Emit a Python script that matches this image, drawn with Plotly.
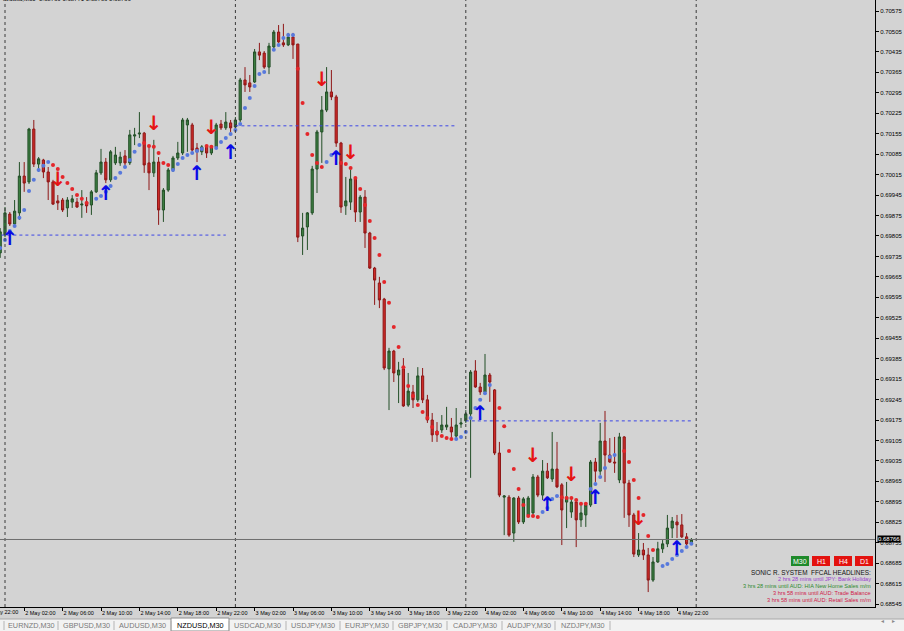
import pandas as pd
import plotly.graph_objects as go

# NZDUSD M30, first visible bar opens 1 May 23:30
first_bar = pd.Timestamp("2016-05-01 23:30")

opens = [0.69747, 0.69808, 0.69880, 0.69846, 0.69884, 0.70010, 0.69990, 0.70171, 0.70051, 0.70065,
         0.70024, 0.69990, 0.69925, 0.69928, 0.69901, 0.69921, 0.69921, 0.69911, 0.69921, 0.69911,
         0.69956, 0.70021, 0.70058, 0.69997, 0.70055, 0.70055, 0.70079, 0.70055, 0.70147, 0.70154,
         0.70157, 0.70055, 0.70021, 0.70058, 0.69894, 0.69962, 0.70031, 0.70072, 0.70089, 0.70185,
         0.70185, 0.70106, 0.70093, 0.70110, 0.70089, 0.70110, 0.70188, 0.70175, 0.70192, 0.70178,
         0.70202, 0.70339, 0.70329, 0.70332, 0.70435, 0.70431, 0.70383, 0.70452, 0.70503, 0.70466,
         0.70459, 0.70486, 0.70462, 0.69805, 0.69836, 0.69884, 0.70034, 0.70161, 0.70236, 0.70298,
         0.70281, 0.70123, 0.69908, 0.69921, 0.70000, 0.69887, 0.69938, 0.69815, 0.69695, 0.69644,
         0.69589, 0.69350, 0.69411, 0.69329, 0.69350, 0.69226, 0.69271, 0.69244, 0.69326, 0.69244,
         0.69175, 0.69137, 0.69141, 0.69151, 0.69151, 0.69120, 0.69161, 0.69172, 0.69196, 0.69343,
         0.69288, 0.69271, 0.69329, 0.69278, 0.69062, 0.68911, 0.68911, 0.68788, 0.68908, 0.68826,
         0.68850, 0.68857, 0.68980, 0.68918, 0.69000, 0.68973, 0.69007, 0.68953, 0.68894, 0.68860,
         0.68894, 0.68833, 0.68850, 0.68884, 0.69031, 0.69000, 0.69103, 0.69055, 0.69031, 0.68970,
         0.69117, 0.68959, 0.68850, 0.68713, 0.68730, 0.68713, 0.68627, 0.68689, 0.68734, 0.68751,
         0.68805, 0.68826, 0.68816, 0.68775, 0.68751]
highs = [0.69832, 0.69904, 0.69887, 0.69928, 0.70058, 0.70058, 0.70175, 0.70202, 0.70075, 0.70069,
         0.70041, 0.69997, 0.69945, 0.69935, 0.69938, 0.69945, 0.69935, 0.69962, 0.69938, 0.69962,
         0.70031, 0.70103, 0.70072, 0.70099, 0.70110, 0.70093, 0.70099, 0.70168, 0.70175, 0.70229,
         0.70161, 0.70116, 0.70134, 0.70075, 0.69969, 0.70038, 0.70079, 0.70127, 0.70209, 0.70209,
         0.70192, 0.70123, 0.70116, 0.70116, 0.70116, 0.70192, 0.70202, 0.70229, 0.70202, 0.70212,
         0.70346, 0.70383, 0.70356, 0.70445, 0.70466, 0.70438, 0.70466, 0.70510, 0.70527, 0.70531,
         0.70500, 0.70500, 0.70462, 0.69884, 0.69887, 0.70045, 0.70168, 0.70284, 0.70383, 0.70373,
         0.70288, 0.70127, 0.70007, 0.70031, 0.70003, 0.69945, 0.69962, 0.69819, 0.69699, 0.69665,
         0.69593, 0.69422, 0.69415, 0.69374, 0.69387, 0.69336, 0.69295, 0.69356, 0.69353, 0.69261,
         0.69199, 0.69168, 0.69192, 0.69220, 0.69182, 0.69216, 0.69182, 0.69209, 0.69346, 0.69380,
         0.69302, 0.69401, 0.69336, 0.69281, 0.69100, 0.68918, 0.68918, 0.68911, 0.68915, 0.68911,
         0.68915, 0.68990, 0.68987, 0.69038, 0.69028, 0.69134, 0.69100, 0.68959, 0.68963, 0.68911,
         0.68901, 0.68884, 0.68891, 0.69038, 0.69045, 0.69165, 0.69206, 0.69113, 0.69117, 0.69131,
         0.69120, 0.68970, 0.68857, 0.68788, 0.68754, 0.68737, 0.68706, 0.68758, 0.68764, 0.68850,
         0.68843, 0.68850, 0.68853, 0.68788, 0.68771]
lows = [0.69730, 0.69801, 0.69839, 0.69839, 0.69860, 0.69956, 0.69983, 0.70041, 0.70024, 0.70003,
        0.69928, 0.69911, 0.69894, 0.69887, 0.69870, 0.69901, 0.69901, 0.69867, 0.69884, 0.69877,
        0.69952, 0.70014, 0.69986, 0.69990, 0.70048, 0.70045, 0.70038, 0.70048, 0.70116, 0.70140,
        0.70021, 0.69962, 0.70007, 0.69843, 0.69853, 0.69956, 0.70024, 0.70065, 0.70082, 0.70093,
        0.70093, 0.70058, 0.70082, 0.70072, 0.70082, 0.70103, 0.70168, 0.70168, 0.70161, 0.70168,
        0.70195, 0.70298, 0.70298, 0.70329, 0.70407, 0.70377, 0.70359, 0.70448, 0.70466, 0.70452,
        0.70455, 0.70411, 0.69784, 0.69740, 0.69757, 0.69877, 0.69952, 0.70055, 0.70229, 0.70270,
        0.70110, 0.69884, 0.69877, 0.69894, 0.69853, 0.69853, 0.69764, 0.69692, 0.69569, 0.69558,
        0.69346, 0.69209, 0.69305, 0.69233, 0.69220, 0.69220, 0.69216, 0.69237, 0.69233, 0.69165,
        0.69100, 0.69100, 0.69131, 0.69141, 0.69107, 0.69113, 0.69148, 0.69165, 0.68977, 0.69285,
        0.69261, 0.69267, 0.69237, 0.69055, 0.68911, 0.68781, 0.68775, 0.68758, 0.68819, 0.68819,
        0.68843, 0.68850, 0.68911, 0.68901, 0.68973, 0.68963, 0.68942, 0.68747, 0.68805, 0.68840,
        0.68740, 0.68809, 0.68809, 0.68877, 0.68963, 0.68987, 0.68963, 0.69028, 0.68994, 0.68959,
        0.68840, 0.68809, 0.68706, 0.68706, 0.68696, 0.68586, 0.68621, 0.68686, 0.68720, 0.68740,
        0.68771, 0.68771, 0.68771, 0.68740, 0.68747]
closes = [0.69819, 0.69884, 0.69846, 0.69890, 0.70010, 0.69986, 0.70171, 0.70051, 0.70069, 0.70024,
          0.69990, 0.69914, 0.69918, 0.69894, 0.69928, 0.69932, 0.69904, 0.69914, 0.69908, 0.69956,
          0.70021, 0.70058, 0.69997, 0.70093, 0.70082, 0.70075, 0.70055, 0.70151, 0.70151, 0.70157,
          0.70048, 0.70021, 0.70058, 0.69894, 0.69962, 0.70031, 0.70072, 0.70089, 0.70202, 0.70202,
          0.70099, 0.70093, 0.70110, 0.70089, 0.70110, 0.70185, 0.70175, 0.70195, 0.70175, 0.70202,
          0.70339, 0.70322, 0.70315, 0.70435, 0.70424, 0.70383, 0.70455, 0.70503, 0.70469, 0.70459,
          0.70486, 0.70459, 0.69801, 0.69832, 0.69884, 0.70034, 0.70161, 0.70236, 0.70298, 0.70281,
          0.70123, 0.69904, 0.69925, 0.70000, 0.69887, 0.69938, 0.69815, 0.69695, 0.69654, 0.69586,
          0.69353, 0.69411, 0.69336, 0.69346, 0.69223, 0.69274, 0.69244, 0.69326, 0.69244, 0.69175,
          0.69124, 0.69124, 0.69158, 0.69158, 0.69134, 0.69158, 0.69165, 0.69196, 0.69339, 0.69288,
          0.69271, 0.69329, 0.69305, 0.69062, 0.68918, 0.68915, 0.68781, 0.68908, 0.68826, 0.68905,
          0.68908, 0.68980, 0.68918, 0.69000, 0.68977, 0.69007, 0.68946, 0.68867, 0.68911, 0.68894,
          0.68833, 0.68857, 0.68884, 0.69031, 0.69000, 0.69103, 0.69055, 0.69031, 0.69028, 0.69117,
          0.68959, 0.68850, 0.68716, 0.68730, 0.68713, 0.68627, 0.68689, 0.68734, 0.68751, 0.68805,
          0.68829, 0.68816, 0.68775, 0.68751, 0.68766]

# Sonic R trailing dots: blue under price, red over price
dots_up_bars = [0, 1, 2, 3, 4, 5, 6, 7, 8, 9, 10,
                20, 21, 22, 23, 24, 25, 26, 27, 28, 29,
                36, 37, 38, 39, 40, 41, 42,
                45, 46, 47, 48, 49, 50, 51, 52, 53, 54, 55, 57, 58, 59, 60, 61,
                68, 69, 70,
                95, 96, 97, 98, 99, 100, 101, 102,
                113, 114, 115, 116,
                123, 124, 125, 126, 127, 128,
                138, 139, 140, 141, 142, 143, 144]
dots_up = [0.69764, 0.69791, 0.69822, 0.69839, 0.69867, 0.69894, 0.69959, 0.69997, 0.70031, 0.70045, 0.70058,
           0.69932, 0.69942, 0.69956, 0.69976, 0.70003, 0.70021, 0.70041, 0.70065, 0.70093, 0.70116,
           0.70031, 0.70051, 0.70072, 0.70082, 0.70089, 0.70096, 0.70103,
           0.70106, 0.70127, 0.70140, 0.70154, 0.70168, 0.70188, 0.70243, 0.70277, 0.70318, 0.70359,
           0.70366, 0.70442, 0.70459, 0.70483, 0.70493, 0.70493,
           0.70058, 0.70082, 0.70089,
           0.69110, 0.69117, 0.69134, 0.69182, 0.69216, 0.69244, 0.69267, 0.69295,
           0.68860, 0.68874, 0.68905, 0.68915,
           0.68939, 0.68956, 0.68980, 0.69011, 0.69048, 0.69055,
           0.68675, 0.68682, 0.68699, 0.68713, 0.68727, 0.68740, 0.68751]
dots_dn_bars = [11, 12, 13, 14, 15, 16, 17, 18,
                30, 31, 32, 33, 34, 35,
                43, 44,
                62, 63, 64, 65, 66, 67,
                71, 72, 73, 74, 75, 76, 77, 78, 79, 80, 81, 82, 83, 84, 85, 86, 87, 88, 89, 90,
                91, 92, 93, 94,
                104, 105, 106, 107, 108, 109, 110, 111, 112,
                117, 118, 119, 120, 121, 122,
                130, 131, 132, 133, 134, 135, 136]
dots_dn = [0.70048, 0.70034, 0.70007, 0.69986, 0.69966, 0.69945, 0.69932, 0.69918,
           0.70123, 0.70113, 0.70110, 0.70089, 0.70055, 0.70048,
           0.70113, 0.70110,
           0.70377, 0.70260, 0.70154, 0.70082, 0.70055, 0.70041,
           0.70055, 0.70051, 0.70038, 0.70003, 0.69966, 0.69911, 0.69856, 0.69798, 0.69740, 0.69647,
           0.69576, 0.69493, 0.69425, 0.69356, 0.69291, 0.69257, 0.69226, 0.69202, 0.69182, 0.69151,
           0.69131, 0.69120, 0.69113, 0.69110,
           0.69216, 0.69154, 0.69069, 0.69007, 0.68939, 0.68884, 0.68846, 0.68846, 0.68843,
           0.68911, 0.68908, 0.68908, 0.68901, 0.68888, 0.68888,
           0.69069, 0.69031, 0.68970, 0.68908, 0.68850, 0.68778, 0.68730]

# signal arrows
arrow_up_bars = [2, 22, 41, 48, 70, 100, 114, 124, 141]
arrow_up = [0.69791, 0.69945, 0.70014, 0.70086, 0.70065, 0.69192, 0.68881, 0.68905, 0.68730]
arrow_dn_bars = [12, 32, 44, 67, 73, 111, 119, 133]
arrow_dn = [0.69993, 0.70185, 0.70171, 0.70336, 0.70086, 0.69048, 0.68983, 0.68833]

# dotted day levels
level_prices = [0.69808, 0.70182, 0.69172]
level_from = [-1, 49, 97]
level_to = [47, 95, 144]

day_starts = [1, 49, 97, 145]
y_ticks = [round(0.68545 + 0.0007 * k, 5) for k in range(30)]

tabs = ["EURNZD,M30", "GBPUSD,M30", "AUDUSD,M30", "NZDUSD,M30", "USDCAD,M30", "USDJPY,M30",
        "EURJPY,M30", "GBPJPY,M30", "CADJPY,M30", "AUDJPY,M30", "NZDJPY,M30"]
active_tab = "NZDUSD,M30"

timeframes = ["M30", "H1", "H4", "D1"]
tf_colors = ["#1f8a2b", "#e3120f", "#e3120f", "#e3120f"]
headlines = ["2 hrs 28 mins until JPY: Bank Holiday",
             "3 hrs 28 mins until AUD: HIA New Home Sales m/m",
             "3 hrs 58 mins until AUD: Trade Balance",
             "3 hrs 58 mins until AUD: Retail Sales m/m"]
headline_colors = ["#9a3fd0", "#2f8a2f", "#d0204a", "#d0204a"]

# screen geometry (pixels) of the chart window
PLOT_W, PLOT_H = 875, 607
BAR_PX = 4.8
X_MIN = -0.2 / BAR_PX
X_MAX = X_MIN + PLOT_W / BAR_PX
Y_RANGE = [0.685349, 0.706127]
BG = "#d3d3d3"
FONT = "Liberation Sans"


def px(x):
    return x / PLOT_W


def py(y):
    return (PLOT_H - y) / PLOT_H


bars = list(range(len(opens)))
times = [first_bar + pd.Timedelta(minutes=30 * i) for i in bars]
tick_bars = list(range(5, len(bars), 8))
tick_text = ["%d %s" % (times[i].day, times[i].strftime("%b %H:%M")) for i in tick_bars]

fig = go.Figure()

fig.add_trace(go.Candlestick(
    x=bars, open=opens, high=highs, low=lows, close=closes,
    increasing=dict(line=dict(color="#234f27", width=1), fillcolor="#3b7e40"),
    decreasing=dict(line=dict(color="#8e1717", width=1), fillcolor="#cd2a27"),
    whiskerwidth=0, hoverinfo="skip", showlegend=False))

lx, ly = [], []
for p, a, b in zip(level_prices, level_from, level_to):
    lx += [a, b, None]
    ly += [p, p, None]
fig.add_trace(go.Scatter(x=lx, y=ly, mode="lines", hoverinfo="skip", showlegend=False,
                         line=dict(color="#3c46e6", width=1, dash="dot")))

fig.add_trace(go.Scatter(x=dots_up_bars, y=dots_up, mode="markers", hoverinfo="skip", showlegend=False,
                         marker=dict(size=4, color="#5879dc")))
fig.add_trace(go.Scatter(x=dots_dn_bars, y=dots_dn, mode="markers", hoverinfo="skip", showlegend=False,
                         marker=dict(size=4, color="#e4262a")))

fig.add_trace(go.Scatter(x=arrow_up_bars, y=arrow_up, mode="text", text=["↑"] * len(arrow_up),
                         textfont=dict(family="DejaVu Sans", size=20, color="#0a0ae6", weight="bold"),
                         hoverinfo="skip", showlegend=False))
fig.add_trace(go.Scatter(x=arrow_dn_bars, y=arrow_dn, mode="text", text=["↓"] * len(arrow_dn),
                         textfont=dict(family="DejaVu Sans", size=20, color="#e61414", weight="bold"),
                         hoverinfo="skip", showlegend=False))

shapes = []
for d in day_starts:
    shapes.append(dict(type="line", xref="x", yref="paper", x0=d, x1=d, y0=0, y1=1,
                       line=dict(color="#3a3a3a", width=1, dash="dot")))
shapes.append(dict(type="line", xref="paper", yref="y", x0=0, x1=1, y0=closes[-1], y1=closes[-1],
                   line=dict(color="#6e6e6e", width=1)))

annotations = []
# current price tag on the price scale
annotations.append(dict(xref="paper", yref="y", x=1, y=closes[-1], xanchor="left", yanchor="middle",
                        text="%.5f" % closes[-1], showarrow=False, xshift=2, bgcolor="black",
                        borderpad=0, font=dict(family=FONT, size=6, color="white")))
# first (cut off) time label
prev_label = first_bar - pd.Timedelta(minutes=90)
annotations.append(dict(xref="paper", yref="paper", x=(-3 - X_MIN) / (X_MAX - X_MIN), y=py(612),
                        xanchor="left", yanchor="middle", showarrow=False,
                        text="%d %s" % (prev_label.day, prev_label.strftime("%b %H:%M")),
                        font=dict(family=FONT, size=5.5, color="black")))
# window title line, mostly above the view
annotations.append(dict(xref="paper", yref="paper", x=0.001, y=1, xanchor="left", yanchor="bottom",
                        yshift=-4, showarrow=False,
                        text="nzdusd,M30  0.68769 0.68771 0.68766 0.68766",
                        font=dict(family=FONT, size=6, color="black")))

# timeframe boxes and headlines panel
tf_edges = [(791, 809), (812, 830), (834, 852), (855, 873)]
for name, col, (a, b) in zip(timeframes, tf_colors, tf_edges):
    shapes.append(dict(type="rect", xref="paper", yref="paper", x0=px(a), x1=px(b),
                       y0=py(566), y1=py(556), fillcolor=col, line=dict(width=0)))
    annotations.append(dict(xref="paper", yref="paper", x=px((a + b) / 2), y=py(561),
                            text=name, showarrow=False, xanchor="center", yanchor="middle",
                            font=dict(family=FONT, size=7, color="white")))
annotations.append(dict(xref="paper", yref="paper", x=px(873), y=py(572), xanchor="right",
                        yanchor="middle", showarrow=False, text="SONIC R. SYSTEM  FFCAL HEADLINES:",
                        font=dict(family=FONT, size=6.4, color="#111111")))
for k, (txt, col) in enumerate(zip(headlines, headline_colors)):
    annotations.append(dict(xref="paper", yref="paper", x=px(873), y=py(579 + 7 * k),
                            xanchor="right", yanchor="middle", showarrow=False, text=txt,
                            font=dict(family=FONT, size=5.6, color=col)))

# symbol tabs at the bottom of the window
tab_edges = [4, 58, 114, 171, 229, 286, 340, 393, 447, 502, 555, 610]
shapes.append(dict(type="rect", xref="paper", yref="paper", x0=0, x1=px(904), y0=py(631), y1=py(619),
                   fillcolor="#f2f2f2", line=dict(width=0)))
shapes.append(dict(type="line", xref="paper", yref="paper", x0=0, x1=px(904), y0=py(619), y1=py(619),
                   line=dict(color="#a8a8a8", width=1)))
for k, name in enumerate(tabs):
    a, b = tab_edges[k], tab_edges[k + 1]
    if name == active_tab:
        shapes.append(dict(type="rect", xref="paper", yref="paper", x0=px(a), x1=px(b),
                           y0=py(631), y1=py(618), fillcolor="white",
                           line=dict(color="#8c8c8c", width=1)))
    annotations.append(dict(xref="paper", yref="paper", x=px((a + b) / 2), y=py(625.5),
                            text=name, showarrow=False, xanchor="center", yanchor="middle",
                            font=dict(family=FONT, size=7.3,
                                      color="black" if name == active_tab else "#7a7a7a")))
for e in tab_edges:
    shapes.append(dict(type="line", xref="paper", yref="paper", x0=px(e), x1=px(e),
                       y0=py(630), y1=py(621), line=dict(color="#b4b4b4", width=1)))
for xx, ch in [(886, "◂"), (897, "▸")]:
    annotations.append(dict(xref="paper", yref="paper", x=px(xx), y=py(626), text=ch,
                            showarrow=False, font=dict(family="DejaVu Sans", size=6, color="#8a8a8a")))

fig.update_layout(
    width=904, height=631,
    margin=dict(l=0, r=904 - PLOT_W, t=0, b=631 - PLOT_H, autoexpand=False),
    paper_bgcolor=BG, plot_bgcolor=BG,
    font=dict(family=FONT, size=6, color="black"),
    hovermode=False, showlegend=False, boxgap=0.35,
    shapes=shapes, annotations=annotations,
    xaxis=dict(range=[X_MIN, X_MAX], rangeslider=dict(visible=False), showgrid=False,
               zeroline=False, showline=True, linecolor="black", linewidth=1,
               tickmode="array", tickvals=tick_bars, ticktext=tick_text, tickangle=0,
               ticks="outside", ticklen=3, tickcolor="black",
               ticklabelposition="outside right", tickfont=dict(family=FONT, size=5.5)),
    yaxis=dict(range=Y_RANGE, side="right", showgrid=False, zeroline=False,
               showline=True, linecolor="black", linewidth=1,
               tickmode="array", tickvals=y_ticks, ticktext=["%.5f" % v for v in y_ticks],
               ticks="outside", ticklen=3, tickcolor="black", tickfont=dict(family=FONT, size=6)),
)

fig.write_html("out.html", config={"displayModeBar": False},
               post_script="document.body.style.margin='0px';")
